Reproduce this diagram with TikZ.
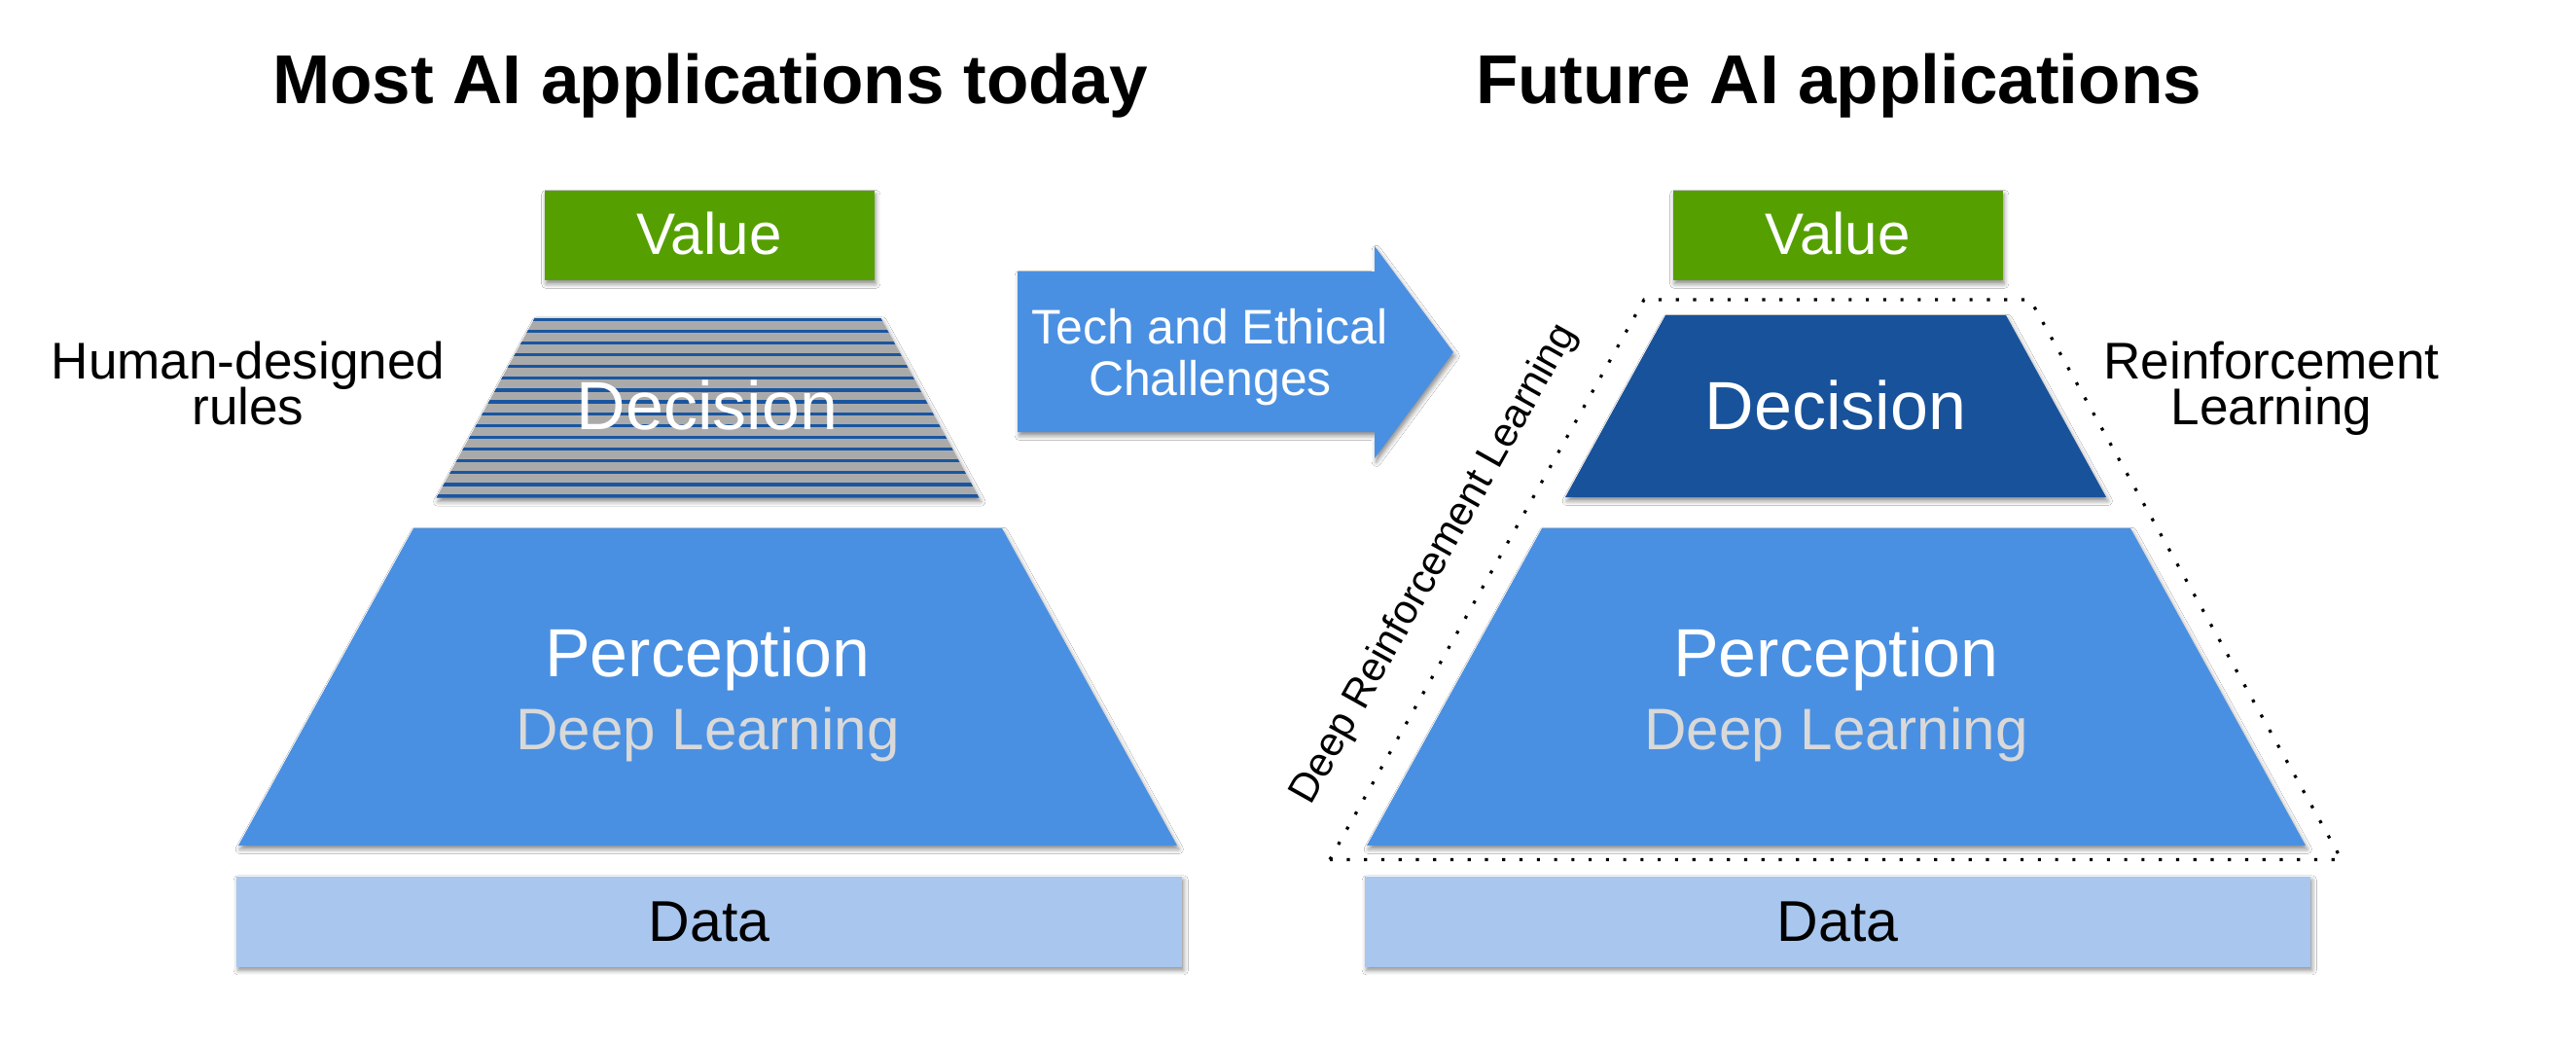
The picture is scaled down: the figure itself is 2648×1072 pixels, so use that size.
\documentclass[tikz,border=0pt]{standalone}
\usepackage{fontspec}
\setmainfont{Liberation Sans}
\usetikzlibrary{shadows.blur}

\definecolor{valgreen}{RGB}{85,160,0}
\definecolor{percblue}{RGB}{74,144,226}
\definecolor{decblue}{RGB}{24,82,155}
\definecolor{stripeblue}{RGB}{26,86,160}
\definecolor{stripegray}{RGB}{170,170,170}
\definecolor{datablue}{RGB}{168,198,238}
\definecolor{dlgray}{RGB}{217,217,217}

\newcommand\myfs[1]{\fontsize{#1pt}{#1pt}\selectfont}

\tikzset{
  shad/.style={blur shadow={shadow xshift=0.5pt, shadow yshift=-1.1pt, shadow blur radius=1.3pt, shadow opacity=45}},
  txt/.style={anchor=base, inner sep=0pt, outer sep=0pt},
  wbig/.style={txt, text=white, font=\myfs{19.9}},
  wmid/.style={txt, text=white, font=\myfs{17.1}},
  dlt/.style={txt, text=dlgray, font=\myfs{17.1}},
  datat/.style={txt, text=black, font=\myfs{16.8}},
  side/.style={txt, text=black, font=\myfs{15.1}},
  title/.style={txt, text=black, font=\bfseries\myfs{20.2}},
  arrt/.style={txt, text=white, font=\myfs{14.2}},
  dotline/.style={black, line width=0.9pt, dash pattern=on 0.9pt off 4.15pt}
}

\begin{document}
\begin{tikzpicture}[x=0.01cm, y=-0.01cm]
\useasboundingbox (0,0) rectangle (2648,1072);
\fill[white] (0,0) rectangle (2648,1072);

% ---------- titles ----------
\node[title] (titleL) at (730,106) {Most AI applications today};
\node[title] (titleR) at (1890,106) {Future AI applications};

% ---------- left pyramid ----------
\fill[valgreen, shad] (559.5,196) rectangle (898.5,288);
\node[wmid] (valueL) at (729,261) {Value};

\fill[stripegray, shad] (549.8,326.5) -- (905.2,326.5) -- (1006.5,511.7) -- (448.5,511.7) -- cycle;
\begin{scope}
  \clip (549.8,326.5) -- (905.2,326.5) -- (1006.5,511.7) -- (448.5,511.7) -- cycle;
  \foreach \k in {0,...,15}
    \draw[stripeblue, line width=0.95pt] (400,328.2+12.12*\k) -- (1060,328.2+12.12*\k);
\end{scope}
\node[wbig] (decisionL) at (727,441.7) {Decision};

\fill[percblue, shad] (425,543) -- (1030,543) -- (1210,869) -- (245,869) -- cycle;
\node[wbig] (percL) at (727.5,695) {Perception};
\node[dlt] (dlL) at (727.5,770) {Deep Learning};

\fill[datablue, shad] (243,900.5) rectangle (1215,993.5);
\node[datat] (dataL) at (729,967) {Data};

\node[side] (hum1) at (255,389.3) {Human-designed};
\node[side] (hum2) at (255,436) {rules};

% ---------- arrow ----------
\fill[percblue, shad] (1046,279) -- (1413,279) -- (1413,253) -- (1494,362) -- (1413,471) -- (1413,444) -- (1046,444) -- cycle;
\node[arrt] (arr1) at (1243.5,353.3) {Tech and Ethical};
\node[arrt] (arr2) at (1244,406.7) {Challenges};

% ---------- right pyramid ----------
\fill[valgreen, shad] (1719.5,196) rectangle (2058.5,288);
\node[wmid] (valueR) at (1889,261) {Value};

\fill[decblue, shad] (1712,324) -- (2062,324) -- (2165,511) -- (1609,511) -- cycle;
\node[wbig] (decisionR) at (1887,441.5) {Decision};

\fill[percblue, shad] (1585,543) -- (2190,543) -- (2370,869) -- (1405,869) -- cycle;
\node[wbig] (percR) at (1887.5,695) {Perception};
\node[dlt] (dlR) at (1887.5,770) {Deep Learning};

\fill[datablue, shad] (1403,900.5) rectangle (2375,993.5);
\node[datat] (dataR) at (1889,967) {Data};

\draw[dotline] (1367,883.5) -- (1690,308) -- (2087,308) -- (2407,883.5) -- cycle;

\node[side] (rl1) at (2335,389.3) {Reinforcement};
\node[side] (rl2) at (2335,436) {Learning};

\node[txt, text=black, font=\myfs{11.9}, rotate=60.7] (drl) at (1484,585) {Deep Reinforcement Learning};
\end{tikzpicture}
\end{document}
